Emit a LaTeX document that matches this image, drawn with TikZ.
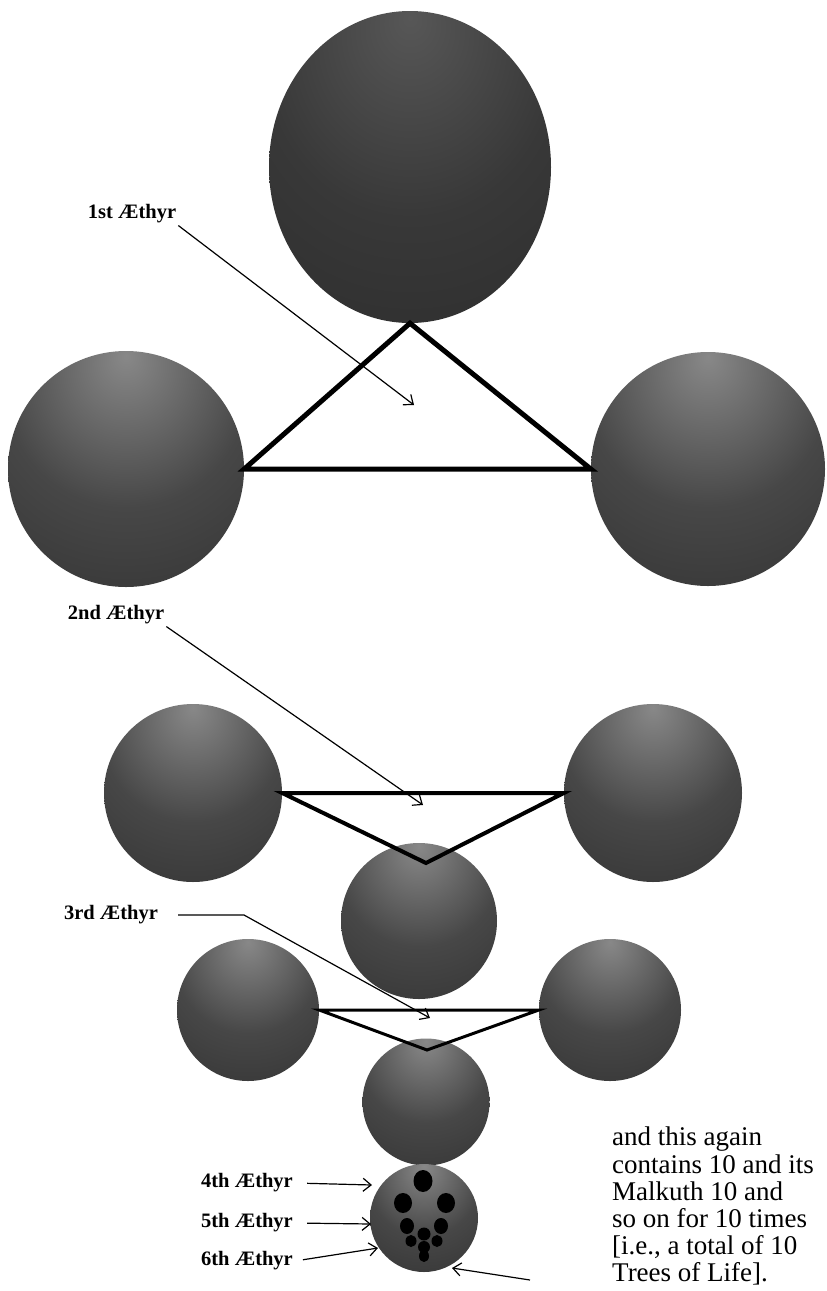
\documentclass[tikz,border=0pt]{standalone}
\usepackage{fontspec}
\setmainfont{Liberation Serif}
\usetikzlibrary{shapes.geometric,arrows.meta}

\definecolor{orbhi}{HTML}{888888}
\definecolor{orbmid}{HTML}{474747}
\definecolor{orblo}{HTML}{262626}
\definecolor{deephi}{HTML}{575757}
\definecolor{deepmid}{HTML}{383838}
\pgfdeclareradialshading{orb}{\pgfpoint{0bp}{24bp}}{color(0bp)=(orbhi); color(26bp)=(orbmid); color(64bp)=(orblo); color(100bp)=(orblo)}
\pgfdeclareradialshading{orbdeep}{\pgfpoint{0bp}{24bp}}{color(0bp)=(deephi); color(26bp)=(deepmid); color(64bp)=(orblo); color(100bp)=(orblo)}

\begin{document}
\begin{tikzpicture}[x=1pt, y=-1pt,
    sphere/.style={circle, inner sep=0pt, shading=orb, minimum size=#1},
    lbl/.style={font=\bfseries\fontsize{20.5}{22}\selectfont, inner sep=2pt},
    pointer/.style={line width=1.2pt, -{Straight Barb[length=8pt,width=13pt]}},
    note/.style={font=\fontsize{27}{27.2}\selectfont, align=left, anchor=north west, inner sep=0pt}]
  \fill[white] (0,0) rectangle (827,1291);
  % First triad
  \node[ellipse, inner sep=0pt, shading=orbdeep, minimum width=282pt, minimum height=312pt] (T1) at (410,167) {};
  \node[sphere=236pt] (L1) at (126,469) {};
  \node[sphere=234pt] (R1) at (708,469) {};
  \draw[line width=5pt] (L1.east) -- (R1.west) -- (T1.south) -- cycle;
  \node[lbl] (lab1) at (132,214) {1st Æthyr};
  \coordinate (tip1) at (414,405);
  \draw[pointer] (lab1.south east) -- (tip1);
  % Second triad
  \node[sphere=178pt] (L2) at (193,793) {};
  \node[sphere=178pt] (R2) at (653,793) {};
  \node[sphere=156pt] (B2) at (419,921) {};
  \coordinate (V2) at (426,863);
  \draw[line width=4pt] (L2.east) -- (R2.west) -- (V2) -- cycle;
  \node[lbl] (lab2) at (116,615) {2nd Æthyr};
  \coordinate (tip2) at (423,805);
  \draw[pointer] (lab2.south east) -- (tip2);
  % Third triad
  \node[sphere=142pt] (L3) at (248,1010) {};
  \node[sphere=142pt] (R3) at (610,1010) {};
  \node[sphere=127pt] (B3) at (426,1102) {};
  \coordinate (V3) at (427,1050);
  \draw[line width=3pt] (L3.east) -- (R3.west) -- (V3) -- cycle;
  \node[lbl] (lab3) at (111,915) {3rd Æthyr};
  \coordinate (bend3) at (244,915);
  \coordinate (tip3) at (430,1018);
  \draw[pointer, shorten <=18pt] (lab3.east) -- (bend3) -- (tip3);
  % Malkuth holding the next tree
  \node[sphere=108pt] (S) at (424,1218) {};
  \foreach \px/\py/\rx/\ry in {423/1181/9.5/11, 403/1203/9/10, 446/1203/9/10,
      407/1226/7/8, 441/1226/7/8, 424/1234/6.5/6.5, 411/1241/5.5/6,
      437/1241/5.5/6, 424/1247/6/6, 424/1256/5/6}
    \fill (\px,\py) ellipse ({\rx} and {\ry});
  \node[lbl] (lab4) at (247,1183) {4th Æthyr};
  \node[lbl] (lab5) at (247,1223) {5th Æthyr};
  \node[lbl] (lab6) at (247,1261) {6th Æthyr};
  \coordinate (tip4) at (372,1185);
  \coordinate (tip5) at (371,1224);
  \coordinate (tip6) at (378,1248);
  \draw[pointer, shorten <=12pt] (lab4.east) -- (tip4);
  \draw[pointer, shorten <=12pt] (lab5.east) -- (tip5);
  \draw[pointer, shorten <=8pt] (lab6.east) -- (tip6);
  % Note
  \node[note] (txt) at (612,1127) {and this again\\contains 10 and its\\Malkuth 10 and\\so on for 10 times\\{[i.e., a total of 10}\\Trees of Life].};
  \coordinate (tail7) at (530,1280);
  \coordinate (tip7) at (452,1268);
  \draw[pointer] (tail7) -- (tip7);
\end{tikzpicture}
\end{document}
